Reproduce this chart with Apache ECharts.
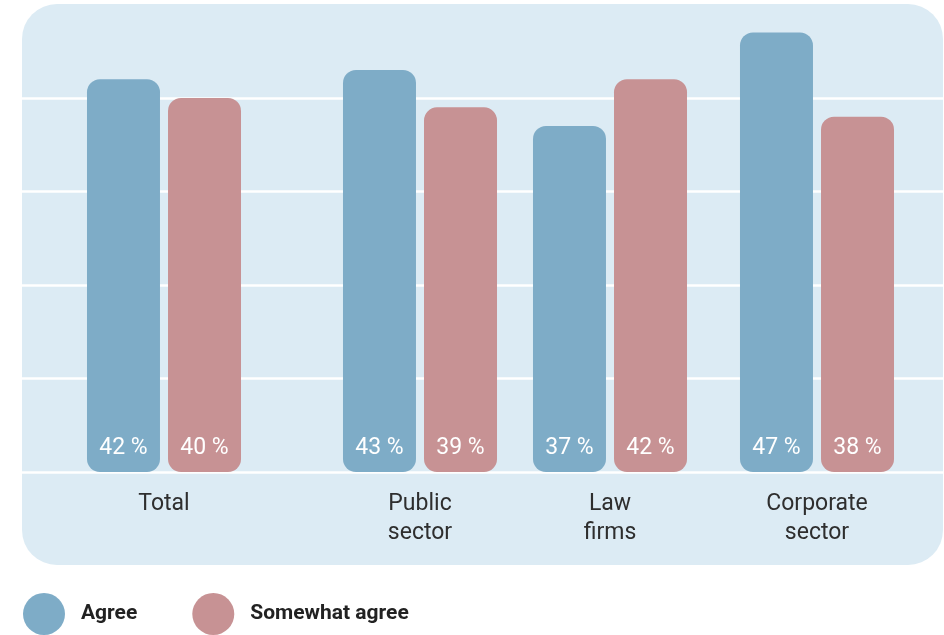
<!DOCTYPE html>
<html>
<head>
<meta charset="utf-8">
<script src="https://cdn.jsdelivr.net/npm/echarts@6/dist/echarts.min.js"></script>
<style>
  html, body { margin: 0; padding: 0; background: #ffffff; }
  #chart { width: 944px; height: 635px; }
</style>
</head>
<body>
<div id="chart"></div>
<script>
// Survey answers by sector (percent of respondents)
var categories = ['Total', 'Public\nsector', 'Law\nfirms', 'Corporate\nsector'];
var agree = [42, 43, 37, 47];
var somewhatAgree = [40, 39, 42, 38];
var seriesNames = ['Agree', 'Somewhat agree'];

var AGREE_COLOR = '#7eacc7';
var SOMEWHAT_COLOR = '#c79294';
var PANEL_COLOR = '#dcebf4';
var FONT = 'Roboto';

// Horizontal centre of each category group (groups are not evenly spaced)
var groupCenters = [164, 420, 610, 817];
var plotTop = 4.5;
var plotBottom = 163;

var grids = [{ left: 22, right: 1, top: plotTop, bottom: plotBottom }];
var xAxes = [{ gridIndex: 0, type: 'value', show: false }];
var yAxes = [{
  gridIndex: 0, type: 'value', min: 0, max: 50, interval: 10,
  axisLine: { show: false }, axisTick: { show: false }, axisLabel: { show: false },
  splitLine: { show: true, showMaxLine: false, lineStyle: { color: '#ffffff', width: 2.5 } }
}];
var series = [];

function barLabel() {
  return {
    show: true, position: 'insideBottom', distance: 12,
    color: '#ffffff', fontFamily: FONT, fontSize: 23,
    formatter: '{c} %'
  };
}

categories.forEach(function (cat, i) {
  var g = i + 1;
  grids.push({ left: groupCenters[i] - 100, width: 200, top: plotTop, bottom: plotBottom });
  xAxes.push({
    gridIndex: g, type: 'category', data: [cat],
    axisLine: { show: false }, axisTick: { show: false },
    axisLabel: { color: '#2e2e2e', fontFamily: FONT, fontSize: 23, lineHeight: 29, margin: 18 }
  });
  yAxes.push({ gridIndex: g, type: 'value', min: 0, max: 50, show: false, splitLine: { show: false } });
  series.push({
    name: seriesNames[0], type: 'bar', xAxisIndex: g, yAxisIndex: g,
    data: [agree[i]], barWidth: 73, barGap: '11%',
    itemStyle: { color: AGREE_COLOR, borderRadius: 13 },
    label: barLabel()
  });
  series.push({
    name: seriesNames[1], type: 'bar', xAxisIndex: g, yAxisIndex: g,
    data: [somewhatAgree[i]], barWidth: 73, barGap: '11%',
    itemStyle: { color: SOMEWHAT_COLOR, borderRadius: 13 },
    label: barLabel()
  });
});

var chart = echarts.init(document.getElementById('chart'), null, { renderer: 'canvas' });
chart.setOption({
  backgroundColor: '#ffffff',
  animation: false,
  graphic: [{
    type: 'rect', z: -10,
    shape: { x: 22, y: 4, width: 921, height: 561, r: 35 },
    style: { fill: PANEL_COLOR }
  }],
  legend: {
    data: seriesNames,
    left: 23, top: 593, padding: 0,
    icon: 'circle', itemWidth: 42, itemHeight: 42, itemGap: 55,
    selectedMode: false,
    textStyle: { color: '#222222', fontFamily: FONT, fontSize: 21, fontWeight: 'bold', padding: [0, 0, 0, 11] }
  },
  grid: grids,
  xAxis: xAxes,
  yAxis: yAxes,
  series: series
});
</script>
</body>
</html>
